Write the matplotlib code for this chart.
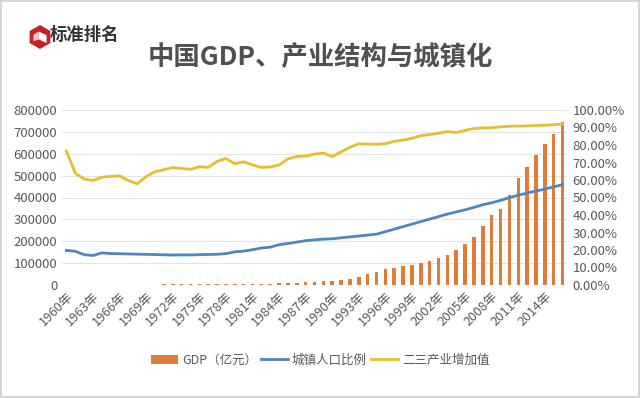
import numpy as np
import matplotlib
matplotlib.use("Agg")
import matplotlib.pyplot as plt
from matplotlib.patches import Rectangle, RegularPolygon, Polygon

plt.rcParams["font.family"] = ["Noto Sans CJK SC", "DejaVu Sans"]

years = list(range(1960, 2017))
year_labels = [f"{y}年" for y in years]

# GDP, 亿元
gdp = [1470.1, 1232.3, 1162.2, 1248.3, 1469.9, 1734.0, 1888.7, 1794.2, 1744.1, 1962.2,
       2279.7, 2456.9, 2552.4, 2756.2, 2827.7, 3039.5, 2988.6, 3250.0, 3678.7, 4100.5,
       4587.6, 4935.8, 5373.4, 6020.9, 7278.5, 9098.9, 10376.2, 12174.6, 15180.4, 17179.7,
       18872.9, 22005.6, 27194.5, 35673.2, 48637.5, 61339.9, 71813.6, 79715.0, 85195.5, 90564.4,
       100280.1, 110863.1, 121717.4, 137422.0, 161840.2, 187318.9, 219438.5, 270232.3, 319515.5, 349081.4,
       413030.3, 489300.6, 540367.4, 595244.4, 643974.0, 689052.1, 744127.2]

# 城镇人口比例 (%)
urban = [19.75, 19.29, 17.33, 16.84, 18.37, 17.98, 17.86, 17.74, 17.62, 17.50,
         17.38, 17.26, 17.13, 17.20, 17.16, 17.34, 17.44, 17.55, 17.92, 18.96,
         19.39, 20.16, 21.13, 21.62, 23.01, 23.71, 24.52, 25.32, 25.81, 26.21,
         26.41, 26.94, 27.46, 27.99, 28.51, 29.04, 30.48, 31.91, 33.35, 34.78,
         36.22, 37.66, 39.09, 40.53, 41.76, 42.99, 44.34, 45.89, 46.99, 48.34,
         49.95, 51.27, 52.57, 53.73, 54.77, 56.10, 57.35]

# 二三产业增加值占比 (%)
industry = [76.6, 63.8, 60.6, 59.7, 61.6, 62.1, 62.4, 59.7, 57.8, 62.0,
            64.8, 65.9, 67.1, 66.6, 66.1, 67.6, 67.2, 70.6, 72.3, 69.3,
            70.4, 68.7, 67.2, 67.4, 68.5, 72.1, 73.4, 73.7, 74.8, 75.4,
            73.4, 76.0, 78.7, 80.7, 80.5, 80.4, 80.7, 82.1, 82.8, 83.9,
            85.3, 86.0, 86.7, 87.7, 87.1, 88.4, 89.4, 89.8, 89.8, 90.4,
            90.7, 90.8, 90.9, 91.1, 91.3, 91.6, 91.9]

C_BAR = "#E07B39"
C_BLUE = "#4F86BE"
C_YEL = "#E8BE2E"
C_TXT = "#595959"

fig = plt.figure(figsize=(6.4, 3.98), dpi=100)
fig.patch.set_facecolor("white")
fig.add_artist(Rectangle((0.002, 0.003), 0.996, 0.994, transform=fig.transFigure,
                         fill=False, edgecolor="#d6d6d6", linewidth=1.5))

# logo: red hexagon with a white cube
axl = fig.add_axes([28 / 640, 1 - 49 / 398, 24 / 640, 24 / 398])
axl.set_xlim(-1, 1)
axl.set_ylim(-1, 1)
axl.set_aspect("equal")
axl.axis("off")
axl.add_patch(RegularPolygon((0, 0), 6, radius=1.0, orientation=0,
                             facecolor="#C8202A", edgecolor="none"))
axl.add_patch(Polygon([(-0.1, 0.45), (0.55, 0.15), (0.55, -0.5), (-0.1, -0.2)],
                      closed=True, facecolor="white", edgecolor="none"))
axl.add_patch(Polygon([(-0.1, 0.45), (-0.55, 0.2), (-0.55, -0.35), (-0.1, -0.2)],
                      closed=True, facecolor="#f0c8c8", edgecolor="none"))
fig.text(50 / 640, 1 - 35 / 398, "标准排名", fontsize=12.5, fontweight="bold",
         color="#333333", va="center", ha="left")

fig.text(320 / 640, 1 - 57 / 398, "中国GDP、产业结构与城镇化", fontsize=19,
         fontweight="bold", color="#505050", ha="center", va="center")

ax = fig.add_axes([62 / 640, 1 - 285 / 398, 505 / 640, 175 / 398])
x = np.arange(len(years))
bars = ax.bar(x, gdp, width=0.4, color=C_BAR, label="GDP（亿元）", zorder=2)
ax.set_xlim(-0.5, len(years) - 0.5)
ax.set_ylim(0, 800000)
ax.set_yticks(np.arange(0, 800001, 100000))
ax.set_yticklabels([str(v) for v in range(0, 800001, 100000)])
ax.grid(axis="y", color="#e3e3e3", linewidth=0.8, zorder=0)
ax.set_axisbelow(True)
for s in ax.spines.values():
    s.set_visible(False)
ax.tick_params(length=0, labelsize=9.5, labelcolor=C_TXT)
ax.set_xticks(x[::3])
ax.set_xticklabels(year_labels[::3], rotation=45, ha="right", rotation_mode="anchor",
                   fontsize=9.3, color=C_TXT)

ax2 = ax.twinx()
l1, = ax2.plot(x, urban, color=C_BLUE, linewidth=2, label="城镇人口比例", zorder=3)
l2, = ax2.plot(x, industry, color=C_YEL, linewidth=2, label="二三产业增加值", zorder=3)
ax2.set_ylim(0, 100)
ax2.set_yticks(np.arange(0, 101, 10))
ax2.set_yticklabels([f"{v:.2f}%" for v in range(0, 101, 10)])
for s in ax2.spines.values():
    s.set_visible(False)
ax2.tick_params(length=0, labelsize=9.5, labelcolor=C_TXT, pad=4)

fig.legend([bars, l1, l2], ["GDP（亿元）", "城镇人口比例", "二三产业增加值"],
           loc="center", bbox_to_anchor=(320 / 640, 1 - 360 / 398), ncol=3,
           frameon=False, fontsize=9, labelcolor=C_TXT, handlelength=2.2,
           handletextpad=0.3, columnspacing=0.3)

fig.savefig("out.png", dpi=100)
